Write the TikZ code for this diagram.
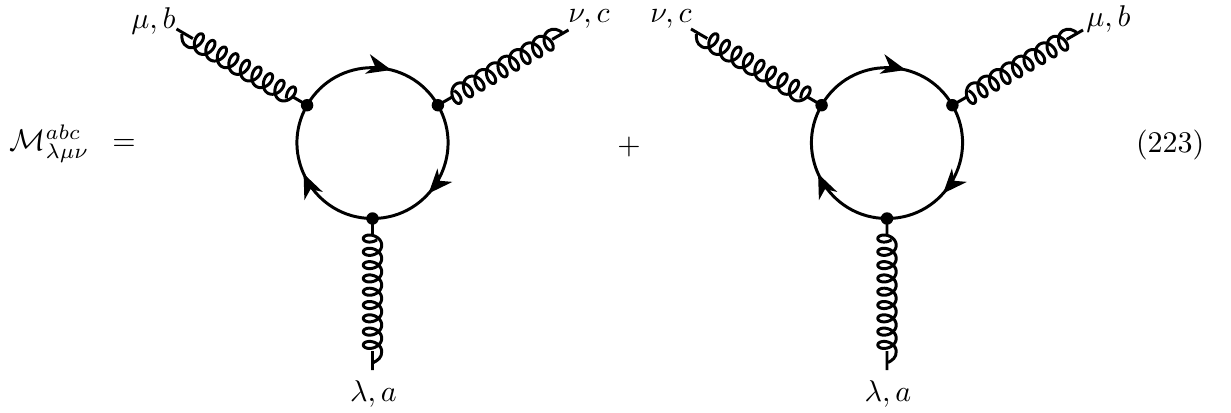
\documentclass[tikz,border=0pt]{standalone}
\usetikzlibrary{decorations.markings,arrows.meta,calc}
\tikzset{
  px/.style={x=0.3533pt,y=-0.3533pt},
  fermion/.style={line width=1.05pt},
  boson/.style={line width=1.05pt,line join=round},
  vertexdot/.style={circle,fill=black,inner sep=0pt,minimum size=4.4pt},
  flabel/.style={inner sep=0pt,anchor=base,scale=1.06},
  flow/.style={postaction={decorate},decoration={markings,mark=at position #1 with {\arrow{Stealth[length=8.6pt,width=7pt,inset=2.6pt]}}}},
}
\def\unitpx{0.3533pt}
\newcommand{\gluon}[3]{%
  \draw[boson] (#1.center) -- ($(#1.center)!0.11!(#2)$);
  \draw[boson] ($(#1.center)!0.875!(#2)$) -- (#2);
  \begin{scope}[shift={(#1.center)},rotate=#3]
    \draw[boson] plot[domain=-0.5:54.978,samples=320,variable=\t]
      ({(16.7+13.3*\t/6.2832+6.5*cos(\t r))*\unitpx},{-9.2*sin(\t r)*\unitpx})
      .. controls ({139*\unitpx},{9.5*\unitpx}) and ({142*\unitpx},{5*\unitpx}) .. ({144*\unitpx},{1*\unitpx});
  \end{scope}
}
\newcommand{\loopdiagram}[8]{%
  \coordinate (c#2) at (#1,143);
  \node[vertexdot] (l#2) at ($(c#2)+(-65.4,-37.8)$) {};
  \node[vertexdot] (r#2) at ($(c#2)+(65.4,-37.8)$) {};
  \node[vertexdot] (d#2) at ($(c#2)+(0,75.5)$) {};
  \coordinate (el#2) at ($(c#2)+(-196,-114)$);
  \coordinate (er#2) at ($(c#2)+(196,-113)$);
  \coordinate (ed#2) at ($(c#2)+(0,227)$);
  \draw[fermion,flow=0.62] (l#2.center) to[bend left=60,looseness=1.134] (r#2.center);
  \draw[fermion,flow=0.6] (r#2.center) to[bend left=60,looseness=1.134] (d#2.center);
  \draw[fermion,flow=0.55] (d#2.center) to[bend left=60,looseness=1.134] (l#2.center);
  \gluon{l#2}{el#2}{150}
  \gluon{r#2}{er#2}{30}
  \gluon{d#2}{ed#2}{-90}
  \node[flabel] (tl#2) at (#4,#5) {$#3$};
  \node[flabel] (tr#2) at (#7,#8) {$#6$};
  \node[flabel] (td#2) at ($(c#2)+(1,258)$) {$\lambda,a$};
}
\begin{document}
\begin{tikzpicture}[px]
\useasboundingbox (0,0) rectangle (1231,412);
\loopdiagram{372.5}{a}{\mu,b}{153.5}{28}{\nu,c}{589}{22}
\loopdiagram{887}{b}{\nu,c}{671}{22}{\mu,b}{1108.5}{26}
\node[flabel,anchor=base west] (lhs) at (9,150) {$\mathcal{M}^{abc}_{\lambda\mu\nu}$};
\node[flabel] (eq) at (124,150) {$=$};
\node[flabel] (plus) at (629,154) {$+$};
\node[flabel,anchor=base east] (num) at (1205,152) {$(223)$};
\end{tikzpicture}
\end{document}
